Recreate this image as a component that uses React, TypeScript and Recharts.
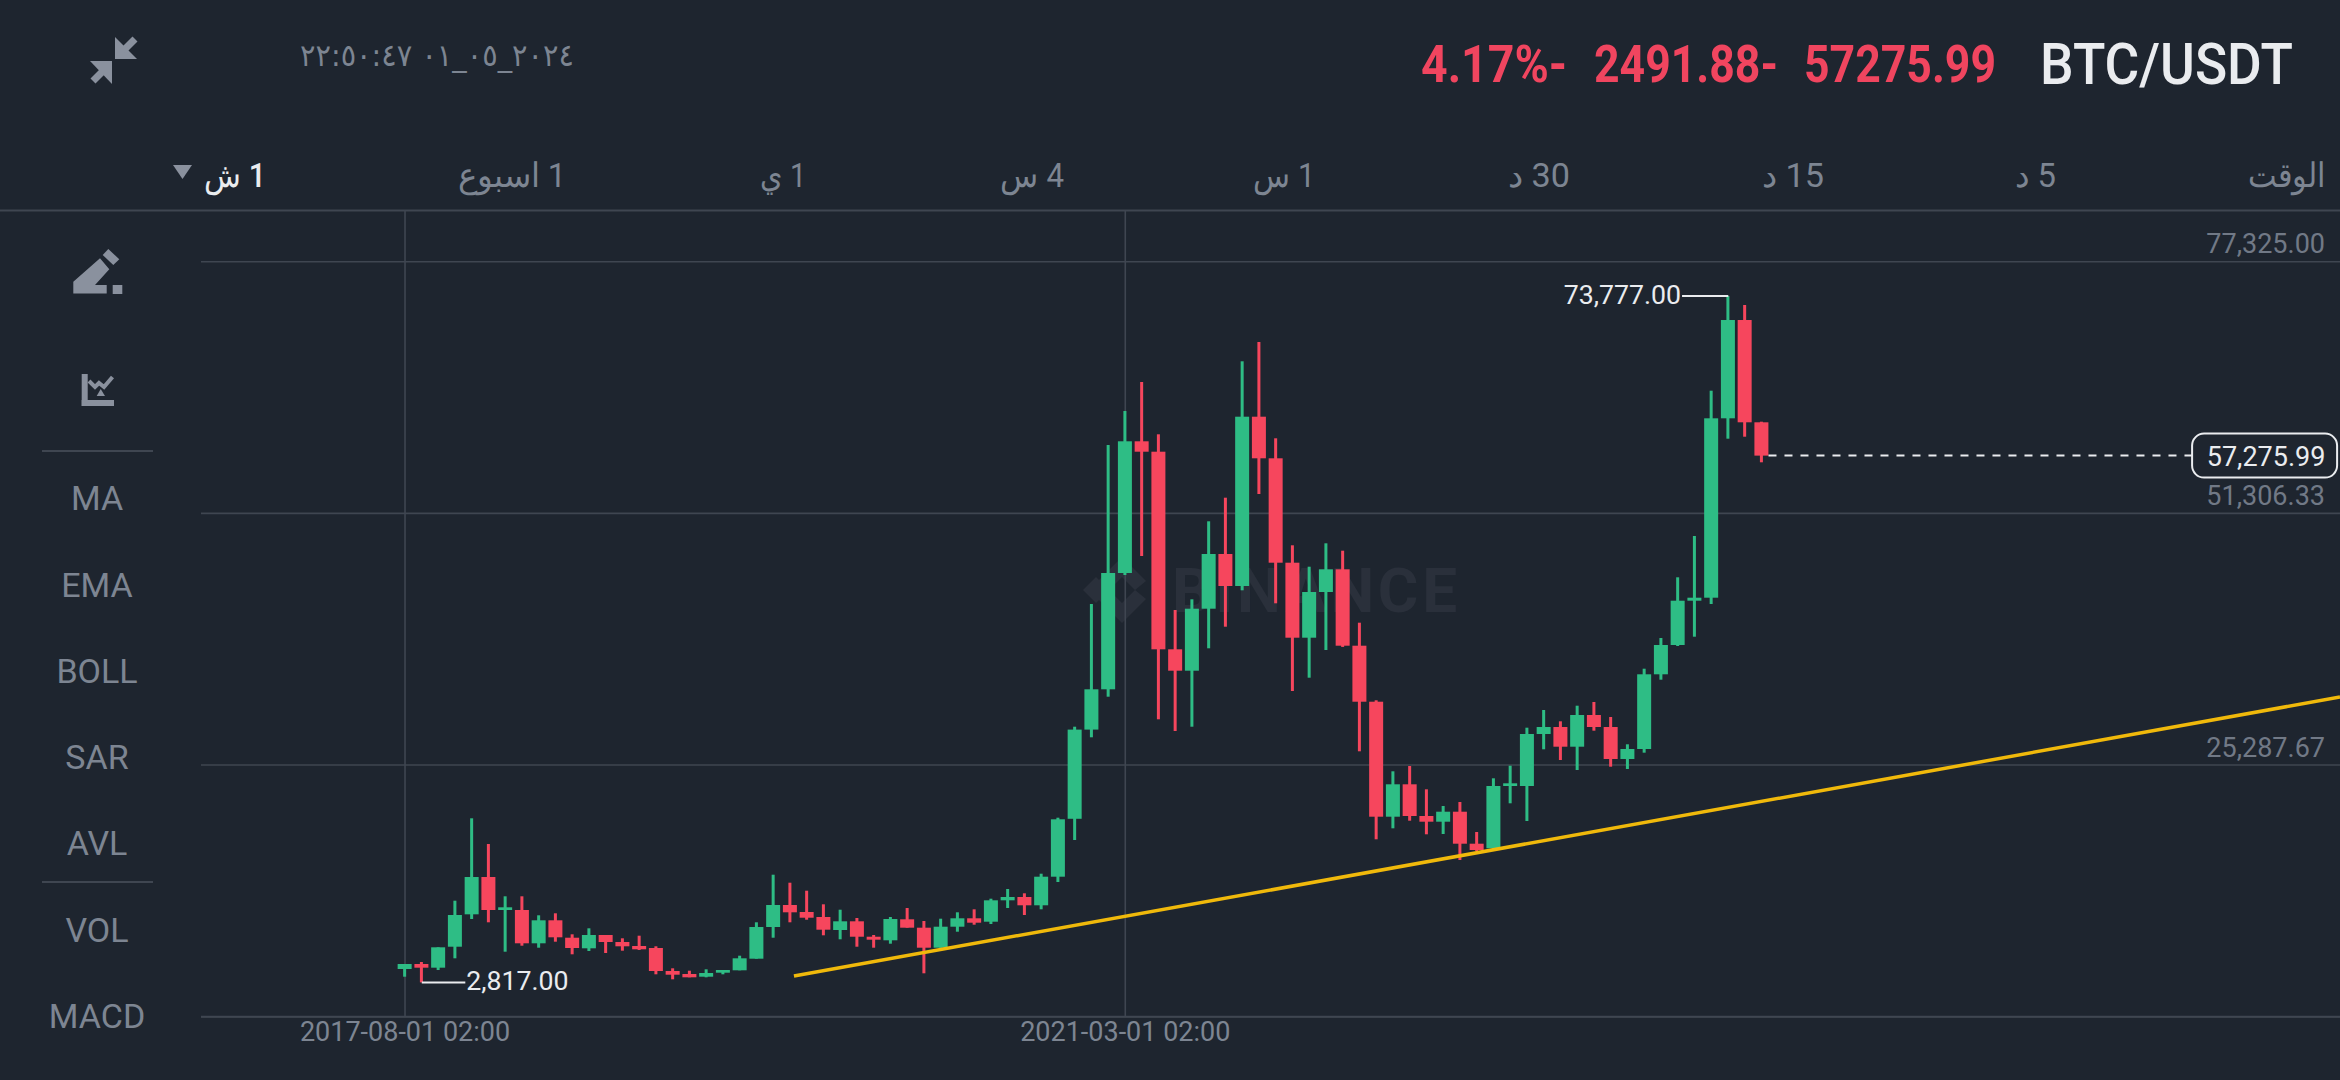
import React from 'react';
import {
  ComposedChart,
  Bar,
  XAxis,
  YAxis,
  CartesianGrid,
  ReferenceLine,
} from 'recharts';

const months = [
  '2017-08', '2017-09', '2017-10', '2017-11', '2017-12',
  '2018-01', '2018-02', '2018-03', '2018-04', '2018-05', '2018-06', '2018-07', '2018-08', '2018-09', '2018-10', '2018-11', '2018-12',
  '2019-01', '2019-02', '2019-03', '2019-04', '2019-05', '2019-06', '2019-07', '2019-08', '2019-09', '2019-10', '2019-11', '2019-12',
  '2020-01', '2020-02', '2020-03', '2020-04', '2020-05', '2020-06', '2020-07', '2020-08', '2020-09', '2020-10', '2020-11', '2020-12',
  '2021-01', '2021-02', '2021-03', '2021-04', '2021-05', '2021-06', '2021-07', '2021-08', '2021-09', '2021-10', '2021-11', '2021-12',
  '2022-01', '2022-02', '2022-03', '2022-04', '2022-05', '2022-06', '2022-07', '2022-08', '2022-09', '2022-10', '2022-11', '2022-12',
  '2023-01', '2023-02', '2023-03', '2023-04', '2023-05', '2023-06', '2023-07', '2023-08', '2023-09', '2023-10', '2023-11', '2023-12',
  '2024-01', '2024-02', '2024-03', '2024-04', '2024-05',
];

const opens = [
  4200, 4717, 4336, 6505, 9854, 13711, 10300, 10300, 6857, 9235, 7435, 6340, 7715, 6991, 6578, 6371, 3993,
  3683, 3404, 3818, 4066, 5265, 8542, 10817, 10093, 9576, 8232, 9131, 7538, 7167, 9339, 8471, 6402, 8573,
  9442, 9090, 11302, 11644, 10786, 13743, 19730, 28951, 33117, 45141, 58757, 57681, 37252, 35040, 41450,
  47105, 43797, 61300, 56999, 46206, 38452, 43176, 45523, 37625, 31834, 19946, 23296, 20018, 19429, 20462,
  17154, 16678, 23120, 23120, 28496, 29219, 27183, 30460, 29219, 25911, 26945, 34668, 37697, 42277, 42587,
  61134, 71297, 60721,
];

const closes = [
  4717, 4336, 6443, 9783, 13711, 10300, 10579, 6857, 9235, 7477, 6371, 7715, 6991, 6547, 6237, 3993, 3611,
  3342, 3786, 4097, 5306, 8542, 10817, 10062, 9503, 8263, 9131, 7538, 7229, 9369, 8471, 6402, 8573, 9442,
  8987, 11302, 11644, 10786, 13743, 19677, 28951, 33117, 45141, 58757, 57681, 37252, 35040, 41450, 47105,
  43797, 61300, 56999, 46206, 38452, 43176, 45523, 37625, 31834, 19946, 23296, 20018, 19429, 20462, 17154,
  16503, 23120, 23399, 28496, 29219, 27183, 30460, 29219, 25911, 26945, 34668, 37697, 42277, 42587, 61134,
  71297, 60721, 57275.99,
];

const highs = [
  4717, 4924, 6443, 11261, 19780, 17123, 11716, 11716, 9752, 9959, 7787, 8408, 7715, 7374, 7643, 6547, 4273,
  4024, 4169, 4097, 5575, 9028, 13949, 13122, 12295, 10889, 10331, 9473, 7715, 9576, 10506, 9162, 9400, 10062,
  10372, 11468, 12471, 12026, 14053, 19842, 29250, 41936, 58374, 61889, 64888, 59481, 41316, 42421, 50486,
  52926, 67028, 69023, 59067, 48005, 45792, 48211, 47446, 40003, 31980, 24640, 25187, 22778, 21052, 21465,
  18364, 23916, 25218, 29148, 30977, 29808, 31421, 31804, 30253, 27431, 35247, 38421, 44696, 48966, 63988,
  73777, 72848, 60783,
];

const lows = [
  3404, 2817, 4097, 5306, 9369, 9028, 5989, 6609, 6402, 7022, 5720, 6061, 5854, 6092, 6164, 3652, 3135,
  3342, 3342, 3652, 4066, 5265, 7435, 9028, 9298, 7684, 7270, 6505, 6402, 6816, 8471, 3755, 6402, 8056,
  8780, 8852, 10506, 9783, 10372, 13195, 17537, 28155, 32352, 44934, 46898, 30016, 28806, 29250, 37356,
  39589, 43352, 53308, 42008, 32941, 34316, 37180, 37500, 26707, 17609, 18746, 19532, 18126, 18157, 15469,
  16400, 16600, 21331, 19501, 26914, 25808, 24774, 28837, 25115, 24877, 26564, 34110, 37594, 38555, 41936,
  59026, 59232, 56586,
];

const yTicks = [-731, 25287.67, 51306.33, 77325];
const xTicks = [0, 43];
const xTickLabels = ['2017-08-01 02:00', '2021-03-01 02:00'];
const sideLabels = ['MA', 'EMA', 'BOLL', 'SAR', 'AVL', 'VOL', 'MACD'];

const trendX = [23.22, 115.52];
const trendY = [3476, 32321];

const lastPrice = 57275.99;
const highPrice = 73777;
const lowPrice = 2817;

const UP = '#2ebd85';
const DOWN = '#f6465d';
const BG = '#1e252f';
const GRID = '#3f4651';
const MUTED = '#7d8592';
const ICON = '#8a919e';
const WHITE = '#eaecef';

const data = months.map((month, i) => ({
  month,
  index: i,
  open: opens[i],
  close: closes[i],
  high: highs[i],
  low: lows[i],
  range: [lows[i], highs[i]],
}));

const Candle = (props: any) => {
  const { x, y, width, height, payload } = props;
  const { open, close, high, low } = payload;
  const perValue = height / (high - low);
  const top = y + (high - Math.max(open, close)) * perValue;
  const bodyHeight = Math.abs(open - close) * perValue;
  const color = close >= open ? UP : DOWN;
  return (
    <g>
      <rect x={x + width / 2 - 1.5} y={y} width={3} height={height} fill={color} />
      <rect x={x} y={top} width={width} height={bodyHeight} fill={color} />
    </g>
  );
};

const PricePill = (props: any) => {
  const { viewBox } = props;
  const right = viewBox.x + viewBox.width;
  const cy = viewBox.y;
  return (
    <g>
      <rect x={right} y={cy - 22} width={145} height={44} rx={12} fill={BG} stroke={WHITE} strokeWidth={2} />
      <text x={right + 74} y={cy + 10} textAnchor="middle" fill={WHITE} fontSize={27} fontFamily="Roboto">
        57,275.99
      </text>
    </g>
  );
};

const EndText = (props: any) => {
  const { viewBox, text, side } = props;
  const px = side === 'left' ? viewBox.x - 1 : viewBox.x + viewBox.width + 1;
  return (
    <text
      x={px}
      y={viewBox.y + 7.5}
      textAnchor={side === 'left' ? 'end' : 'start'}
      fill={WHITE}
      fontSize={26.7}
      fontFamily="Roboto"
    >
      {text}
    </text>
  );
};

const Chrome = () => {
  const tabs: [string, number, number, string, number][] = [
    ['الوقت', 2248, 2325, MUTED, 400],
    ['5 د', 2015, 2056, MUTED, 400],
    ['15 د', 1762, 1824, MUTED, 400],
    ['30 د', 1508, 1570, MUTED, 400],
    ['1 س', 1253, 1315, MUTED, 400],
    ['4 س', 1000, 1064, MUTED, 400],
    ['1 ي', 760, 806, MUTED, 400],
    ['1 اسبوع', 458, 566, MUTED, 400],
    ['1 ش', 204, 266, WHITE, 500],
  ];
  const sideY = [510, 597, 683, 769, 855, 942, 1028];
  return (
    <svg width={2340} height={1080} style={{ position: 'absolute', left: 0, top: 0 }} fontFamily="Roboto">
      {/* collapse icon */}
      <polygon points="115,37 115,59 137,59" fill={ICON} />
      <line x1={123} y1={51} x2={135} y2={39} stroke={ICON} strokeWidth={7} />
      <polygon points="90,61 112,61 112,84" fill={ICON} />
      <line x1={104} y1={70} x2={93} y2={81} stroke={ICON} strokeWidth={7} />

      <text x={574} y={66} textAnchor="start" direction="rtl" fill={MUTED} fontSize={31} fontFamily="DejaVu Sans" textLength={274} lengthAdjust="spacingAndGlyphs">
        ٢٠٢٤_٠٥_٠١ ٢٢:٥٠:٤٧
      </text>

      <text x={1421} y={82} fill="#f0455f" fontSize={52} fontWeight={700} textLength={146} lengthAdjust="spacingAndGlyphs">4.17%-</text>
      <text x={1594} y={82} fill="#f0455f" fontSize={52} fontWeight={700} textLength={184} lengthAdjust="spacingAndGlyphs">2491.88-</text>
      <text x={1804} y={82} fill="#f0455f" fontSize={52} fontWeight={700} textLength={192} lengthAdjust="spacingAndGlyphs">57275.99</text>
      <text x={2040} y={84} fill={WHITE} fontSize={57} fontWeight={500} textLength={253} lengthAdjust="spacingAndGlyphs">BTC/USDT</text>

      {tabs.map(([label, x0, x1, color, weight]) => (
        <text key={label} x={x1} y={187} direction="rtl" fill={color} fontSize={34} fontWeight={weight} textLength={x1 - x0} lengthAdjust="spacingAndGlyphs">
          {label}
        </text>
      ))}
      <polygon points="173,165 192,165 182.5,179" fill={ICON} />

      <line x1={0} y1={210.5} x2={2340} y2={210.5} stroke={GRID} strokeWidth={2} />

      {/* draw icon */}
      <polygon points="73.3,281.7 100,258.3 109.3,269.3 95,285 106.7,285 106.7,293.5 73.3,293.5" fill={ICON} />
      <polygon points="102.7,255 108.3,249 119.3,259.3 113.3,265" fill={ICON} />
      <rect x={112.7} y={285} width={9.6} height={9} fill={ICON} />

      {/* indicator icon */}
      <rect x={81.7} y={374} width={6} height={32} fill={ICON} />
      <rect x={81.7} y={400} width={32.3} height={6} fill={ICON} />
      <polyline points="89,381 95,387 99,383 104,387 112.5,377" stroke={ICON} strokeWidth={4} fill="none" />
      <polygon points="96.7,396 105,396 100.7,389" fill={ICON} />

      <line x1={42} y1={451} x2={153} y2={451} stroke={GRID} strokeWidth={2} />
      <line x1={42} y1={882} x2={153} y2={882} stroke={GRID} strokeWidth={2} />
      {sideLabels.map((label, i) => (
        <text key={label} x={97} y={sideY[i]} textAnchor="middle" fill={MUTED} fontSize={34}>
          {label}
        </text>
      ))}

      {/* watermark */}
      <g fill="#2a303b">
        <polygon points="1083,590 1096,577 1109,590 1096,603" />
        <polygon points="1122,557 1146,581 1135,590 1122,577 1109,590 1098,581" />
        <polygon points="1122,623 1146,599 1135,590 1122,603 1109,590 1098,599" />
        <text x={1172} y={612} fontSize={62} fontWeight={700} textLength={285} lengthAdjust="spacing">BINANCE</text>
      </g>
    </svg>
  );
};

export default function App() {
  return (
    <div style={{ position: 'absolute', left: 0, top: 0, width: 2340, height: 1080, background: BG, overflow: 'hidden' }}>
      <Chrome />
      <div style={{ position: 'absolute', left: 0, top: 0 }}>
        <ComposedChart
          width={2340}
          height={1080}
          data={data}
          margin={{ top: 210, right: 0, bottom: 0, left: 201 }}
          style={{ fontFamily: 'Roboto' }}
        >
          <CartesianGrid stroke={GRID} strokeWidth={1.6} horizontalValues={yTicks} verticalValues={xTicks} />
          <XAxis
            dataKey="index"
            type="number"
            domain={[-12.18, 115.52]}
            allowDataOverflow
            ticks={xTicks}
            interval={0}
            height={63.3}
            tickSize={0}
            tickMargin={5}
            axisLine={{ stroke: GRID, strokeWidth: 2 }}
            tick={{ fill: MUTED, fontSize: 27 }}
            tickFormatter={(value: number) => xTickLabels[xTicks.indexOf(value)] ?? ''}
          />
          <YAxis
            orientation="right"
            mirror
            width={1}
            type="number"
            domain={[-731, 82670]}
            allowDataOverflow
            ticks={yTicks}
            interval={0}
            axisLine={false}
            tickLine={false}
            tickSize={0}
            tickMargin={15}
            tick={{ fill: '#717986', fontSize: 27, dy: -18 }}
            tickFormatter={(value: number) =>
              value < 0 ? '' : value.toLocaleString('en-US', { minimumFractionDigits: 2, maximumFractionDigits: 2 })
            }
          />
          <Bar dataKey="range" barSize={14} shape={<Candle />} isAnimationActive={false} />
          <ReferenceLine
            segment={[{ x: trendX[0], y: trendY[0] }, { x: trendX[1], y: trendY[1] }]}
            stroke="#f0b90b"
            strokeWidth={3.5}
          />
          <ReferenceLine
            segment={[{ x: 81.4, y: lastPrice }, { x: 106.69, y: lastPrice }]}
            stroke={WHITE}
            strokeWidth={2}
            strokeDasharray="8 8"
            label={<PricePill />}
          />
          <ReferenceLine
            segment={[{ x: 76.24, y: highPrice }, { x: 79, y: highPrice }]}
            stroke={WHITE}
            strokeWidth={2}
            label={<EndText text="73,777.00" side="left" />}
          />
          <ReferenceLine
            segment={[{ x: 1, y: lowPrice }, { x: 3.6, y: lowPrice }]}
            stroke={WHITE}
            strokeWidth={2}
            label={<EndText text="2,817.00" side="right" />}
          />
        </ComposedChart>
      </div>
    </div>
  );
}
